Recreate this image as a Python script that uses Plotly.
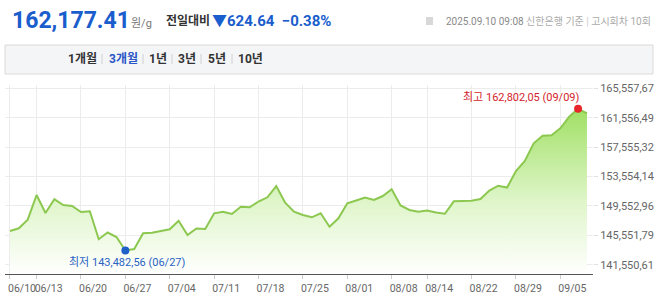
import plotly.graph_objects as go

dates = ["06/10","06/11","06/12","06/13","06/16","06/17","06/18","06/19","06/20","06/23","06/24","06/25","06/26","06/27","06/30",
         "07/01","07/02","07/03","07/04","07/07","07/08","07/09","07/10","07/11","07/14","07/15","07/16","07/17","07/18","07/21",
         "07/22","07/23","07/24","07/25","07/28","07/29","07/30","07/31",
         "08/01","08/04","08/05","08/06","08/07","08/08","08/11","08/12","08/13","08/14","08/18","08/19","08/20","08/21","08/22",
         "08/25","08/26","08/27","08/28","08/29",
         "09/01","09/02","09/03","09/04","09/05","09/08","09/09","09/10"]

prices = [146141.6, 146509.4, 147680.6, 151045.6, 148593.6, 150473.7, 149683.5, 149547.4, 148729.9, 148825.3,
          145024.5, 145937.5, 145324.2, 143482.56, 143689.4,
          145828.2, 145910.0, 146100.7, 146373.2, 147544.7, 145596.6, 146482.0, 146414.0, 148552.8, 148770.8,
          148457.4, 149452.0, 149370.0, 150160.3, 150732.5, 152272.0, 149996.9, 148770.8, 148321.4, 148008.0,
          148552.8, 146727.3, 147871.7,
          149915.0, 150296.6, 150705.3, 150364.5, 150909.6, 151822.4, 149615.4, 149002.2, 148770.8, 148934.3,
          148661.8, 148498.3, 150187.6, 150228.5, 150269.3, 150500.7, 151658.7, 152312.8, 152067.4, 154315.3,
          155678.0, 158088.9, 159124.3, 159200.0, 160132.4, 161712.9, 162802.05, 162177.41]

tick_dates = ["06/10","06/13","06/20","06/27","07/04","07/11","07/18","07/25","08/01","08/08","08/14","08/22","08/29","09/05"]

y_tickvals = [141550.61, 145551.79, 149552.96, 153554.14, 157555.32, 161556.49, 165557.67]
y_ticktext = ["141,550,61", "145,551,79", "149,552,96", "153,554,14", "157,555,32", "161,556,49", "165,557,67"]

min_label = "최저 143,482,56 (06/27)"
max_label = "최고 162,802,05 (09/09)"

tabs = ["1개월", "3개월", "1년", "3년", "5년", "10년"]
tab_x = [82, 123.5, 158, 186.5, 216.5, 250]
tab_sep_x = [102, 143, 172, 201, 232]

# figure geometry (pixels)
FW, FH = 658, 301
L, R, T, B = 5, 65, 85, 27
PW, PH = FW - L - R, FH - T - B


def px(x):
    return (x - L) / PW


def py(y):
    return (FH - B - y) / PH


imin = prices.index(min(prices))
imax = prices.index(max(prices))

KFONT = "Roboto, 'Noto Sans CJK KR', sans-serif"

fig = go.Figure()
fig.add_trace(go.Scatter(
    x=dates, y=prices, mode="lines",
    line=dict(color="#8cc850", width=2),
    fill="tozeroy",
    fillgradient=dict(type="vertical",
                      colorscale=[[0, "rgba(255,255,255,1)"], [0.45, "rgba(222,245,200,1)"], [1, "rgba(160,224,100,1)"]],
                      start=140284, stop=162802),
    hoverinfo="skip", showlegend=False,
))
fig.add_trace(go.Scatter(x=[dates[imin]], y=[prices[imin]], mode="markers",
                         marker=dict(color="#1f5fc8", size=8), showlegend=False))
fig.add_trace(go.Scatter(x=[dates[imax]], y=[prices[imax]], mode="markers",
                         marker=dict(color="#e8262b", size=8), showlegend=False))

ann = []
ann.append(dict(x=dates[imin], y=prices[imin], xref="x", yref="y", text=min_label, showarrow=False,
                xanchor="center", yanchor="top", yshift=-3, xshift=2,
                font=dict(family=KFONT, size=11, color="#2a62c4")))
ann.append(dict(x=dates[imax], y=prices[imax], xref="x", yref="y", text=max_label, showarrow=False,
                xanchor="right", yanchor="bottom", yshift=3, xshift=4,
                font=dict(family=KFONT, size=11, color="#d4242c")))

# header
ann.append(dict(x=px(10), y=py(20), xref="paper", yref="paper", text="<b>162,177.41</b>", showarrow=False,
                xanchor="left", yanchor="middle", font=dict(family="Roboto", size=23, color="#1a5dcc")))
ann.append(dict(x=px(129), y=py(24), xref="paper", yref="paper", text="원/g", showarrow=False,
                xanchor="left", yanchor="middle", font=dict(family=KFONT, size=11, color="#777777")))
ann.append(dict(x=px(164), y=py(21), xref="paper", yref="paper", text="<b>전일대비</b>", showarrow=False,
                xanchor="left", yanchor="middle", font=dict(family=KFONT, size=12, color="#333333")))
ann.append(dict(x=px(210), y=py(21), xref="paper", yref="paper", text="<b>▼624.64  −0.38%</b>", showarrow=False,
                xanchor="left", yanchor="middle", font=dict(family=KFONT, size=15, color="#1a5dcc")))
ann.append(dict(x=px(653), y=py(21), xref="paper", yref="paper",
                text="<span style='color:#8a8a8a'>2025.09.10 09:08</span> 신한은행 기준 <span style='color:#cccccc'>|</span> 고시회차 10회",
                showarrow=False, xanchor="right", yanchor="middle",
                font=dict(family=KFONT, size=10, color="#aaaaaa")))

for t, x in zip(tabs, tab_x):
    ann.append(dict(x=px(x), y=py(59), xref="paper", yref="paper", text="<b>" + t + "</b>", showarrow=False,
                    xanchor="center", yanchor="middle",
                    font=dict(family=KFONT, size=12, color="#2a56c6" if t == "3개월" else "#333333")))

shapes = []
shapes.append(dict(type="rect", xref="paper", yref="paper", x0=px(5), x1=px(653), y0=py(45), y1=py(74),
                   fillcolor="#f4f5f7", line=dict(color="#dadada", width=1), layer="below"))
for sx in tab_sep_x:
    shapes.append(dict(type="line", xref="paper", yref="paper", x0=px(sx), x1=px(sx), y0=py(54), y1=py(64),
                       line=dict(color="#d0d0d0", width=1)))
# small icon before date
shapes.append(dict(type="rect", xref="paper", yref="paper", x0=px(426), x1=px(433), y0=py(17), y1=py(25),
                   fillcolor="#d8d8d8", line=dict(width=0)))

fig.update_layout(
    width=FW, height=FH,
    margin=dict(l=L, r=R, t=T, b=B, pad=0),
    paper_bgcolor="white", plot_bgcolor="white",
    showlegend=False,
    annotations=ann, shapes=shapes,
    xaxis=dict(type="category", range=[-0.56, 65.68], tickmode="array", tickvals=tick_dates, ticktext=tick_dates,
               showgrid=True, gridcolor="#ececec", gridwidth=1,
               showline=True, linecolor="#555555", linewidth=1,
               ticks="outside", ticklen=4, tickcolor="#cccccc",
               tickangle=0, ticklabelshift=12,
               tickfont=dict(family="Roboto", size=10.5, color="#666666"),
               zeroline=False, fixedrange=True),
    yaxis=dict(side="right", range=[140284, 166035], tickmode="array", tickvals=y_tickvals, ticktext=y_ticktext,
               showgrid=True, gridcolor="#ececec", gridwidth=1,
               showline=False, ticks="outside", ticklen=4, tickcolor="#e0e0e0",
               tickfont=dict(family="Roboto", size=11, color="#666666"),
               zeroline=False, fixedrange=True),
)

fig.write_html("out.html")
